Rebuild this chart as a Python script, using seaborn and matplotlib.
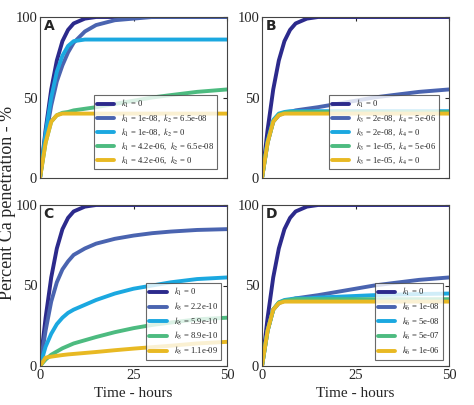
import numpy as np
import matplotlib
matplotlib.use("Agg")
import matplotlib.pyplot as plt
import seaborn as sns
import pandas as pd

sns.set_style("white")
plt.rcParams["font.family"] = ["Liberation Serif", "DejaVu Serif"]
plt.rcParams["mathtext.fontset"] = "stix"

t = [0, 1.5, 3, 4.5, 6, 7.5, 9, 12, 15, 20, 25, 30, 35, 42, 50]

base = [0, 30, 55, 73, 85, 92, 96, 99, 100, 100, 100, 100, 100, 100, 100]
slow55 = [0, 22, 35, 39, 40.5, 41, 42, 43, 44, 46, 48, 50, 51.5, 53.5, 55]
plat40 = [0, 22, 35, 39, 40, 40, 40, 40, 40, 40, 40, 40, 40, 40, 40]

curves_a = [base,
            [0, 25, 45, 60, 70, 78, 84, 91, 95, 98, 99, 100, 100, 100, 100],
            [0, 28, 50, 66, 76, 82, 85, 86, 86, 86, 86, 86, 86, 86, 86],
            slow55, plat40]
curves_b = [base, slow55,
            [0, 23, 36, 40, 41, 41.5, 41.5, 41.5, 41.5, 41.5, 41.5, 41.5, 41.5, 41.5, 41.5],
            [0, 22, 35, 39.5, 40.5, 41, 41, 41, 41, 41, 41, 41, 41, 41, 41],
            plat40]
curves_c = [base,
            [0, 22, 40, 52, 60, 65, 69, 73, 76, 79, 81, 82.5, 83.5, 84.5, 85],
            [0, 12, 20, 26, 30, 33, 35, 38, 41, 45, 48, 50, 52, 54, 55],
            [0, 4, 7, 9, 11, 12.5, 14, 16, 18, 21, 23.5, 25.5, 27, 29, 30],
            [0, 5.2, 5.8, 6.3, 6.8, 7.2, 7.5, 8.1, 8.7, 9.8, 10.8, 11.7, 12.6, 14, 15]]
curves_d = [base, slow55,
            [0, 22, 35, 39.5, 41, 41.5, 42, 42, 42.5, 43, 43.5, 44, 44.3, 44.7, 45],
            [0, 22, 35, 39.5, 40.5, 41, 41.5, 41.5, 41.5, 41.5, 41.5, 41.5, 41.5, 41.5, 41.5],
            plat40]

labels_a = ["$k_1$ = 0", "$k_1$ = 1e-08,  $k_2$ = 6.5e-08", "$k_1$ = 1e-08,  $k_2$ = 0",
            "$k_1$ = 4.2e-06,  $k_2$ = 6.5e-08", "$k_1$ = 4.2e-06,  $k_2$ = 0"]
labels_b = ["$k_1$ = 0", "$k_3$ = 2e-08,  $k_4$ = 5e-06", "$k_3$ = 2e-08,  $k_4$ = 0",
            "$k_3$ = 1e-05,  $k_4$ = 5e-06", "$k_3$ = 1e-05,  $k_4$ = 0"]
labels_c = ["$k_1$ = 0", "$k_5$ = 2.2e-10", "$k_5$ = 5.9e-10", "$k_5$ = 8.9e-10", "$k_5$ = 1.1e-09"]
labels_d = ["$k_1$ = 0", "$k_6$ = 1e-08", "$k_6$ = 5e-08", "$k_6$ = 5e-07", "$k_6$ = 1e-06"]

colors = ["#2c2a8c", "#4a64b0", "#1ba8e0", "#4dbb80", "#e8b923"]

fig = plt.figure(figsize=(4.74, 4.05), dpi=100)
W, H = 474, 405
boxes = {"A": (40, 17), "B": (262, 17), "C": (40, 205), "D": (262, 205)}
panels = {"A": (curves_a, labels_a), "B": (curves_b, labels_b),
          "C": (curves_c, labels_c), "D": (curves_d, labels_d)}

for name, (x0, y0) in boxes.items():
    ax = fig.add_axes([x0 / W, 1 - (y0 + 161) / H, 187 / W, 161 / H])
    curves, labels = panels[name]
    for c, lab, col in zip(curves, labels, colors):
        df = pd.DataFrame({"t": t, "y": c})
        sns.lineplot(data=df, x="t", y="y", ax=ax, color=col, lw=2.8, label=lab)
    ax.set_xlim(0, 50)
    ax.set_ylim(0, 100)
    ax.set_xticks([0, 25, 50])
    ax.set_yticks([0, 50, 100])
    ax.tick_params(direction="in", length=3, labelsize=10.5, top=True, right=True, pad=2)
    ax.set_xlabel("Time - hours" if name in "CD" else "", fontsize=11)
    ax.set_ylabel("")
    if name in "AB":
        ax.set_xticklabels([])
    for s in ax.spines.values():
        s.set_color("#444444")
        s.set_linewidth(0.8)
    ax.text(0.02, 0.985, name, transform=ax.transAxes, ha="left", va="top",
            fontsize=10, fontweight="bold", family="DejaVu Sans")
    leg = ax.legend(loc="lower right", fontsize=6.2, frameon=True, fancybox=False,
                    handlelength=2.0, borderpad=0.35, labelspacing=0.3,
                    bbox_to_anchor=(0.97, 0.03) if name in "AB" else (0.99, 0.01))
    leg.get_frame().set_edgecolor("#444444")
    leg.get_frame().set_linewidth(0.8)

fig.text(8 / W, 0.5, "Percent Ca penetration - %", rotation=90, ha="center",
         va="center", fontsize=13)

fig.savefig("out.png", dpi=100)
